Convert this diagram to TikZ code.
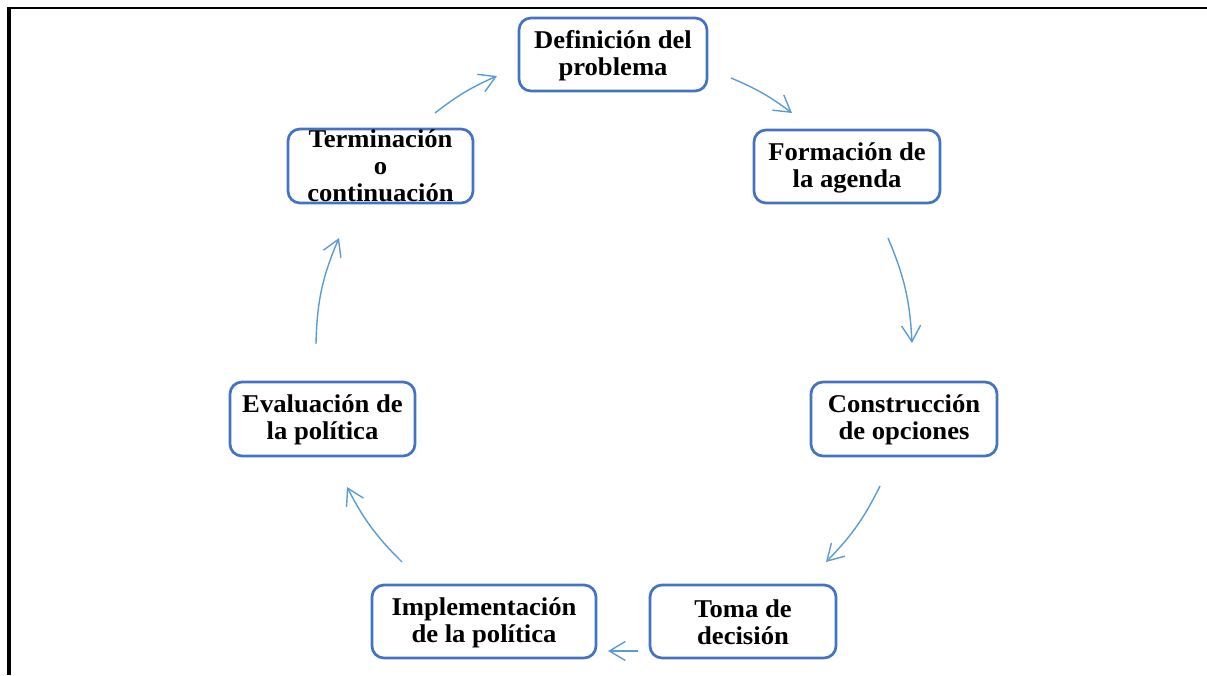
\documentclass[tikz,border=0pt]{standalone}
\usepackage{fontspec}
\setmainfont{Liberation Serif}[FakeStretch=1.04]
\usetikzlibrary{arrows.meta}
\definecolor{boxblue}{HTML}{4472C4}
\definecolor{arrblue}{HTML}{5B9BD5}
\begin{document}
\begin{tikzpicture}[x=1pt,y=1pt,
  box/.style={draw=boxblue, line width=2.7pt, rounded corners=12pt, fill=white, inner sep=0pt},
  lbl/.style={font=\fontsize{25.6}{27}\selectfont\bfseries, align=center, inner sep=0pt},
  arr/.style={draw=arrblue, line width=1.4pt, -{Straight Barb[length=16pt,width=19pt]}}]
\useasboundingbox (0,0) rectangle (1207,675);
% frame
\draw[line width=2.7pt] (7,667) -- (1207,667);
\draw[line width=4.5pt] (9,668.3) -- (9,0);
% boxes
\node[box, minimum width=188pt, minimum height=73pt] (b1) at (613,620.5) {};
\node[box, minimum width=186pt, minimum height=73pt] (b2) at (847,508.5) {};
\node[box, minimum width=186pt, minimum height=74pt] (b3) at (904,256) {};
\node[box, minimum width=186pt, minimum height=73pt] (b4) at (743,53.5) {};
\node[box, minimum width=224pt, minimum height=73pt] (b5) at (484,53.5) {};
\node[box, minimum width=185pt, minimum height=74pt] (b6) at (322.5,256) {};
\node[box, minimum width=185pt, minimum height=74pt] (b7) at (380.5,509) {};
% labels
\node[lbl] (t1) at ([yshift=-1pt]b1.center) {Definición del\\problema};
\node[lbl] (t2) at ([yshift=-1pt]b2.center) {Formación de\\la agenda};
\node[lbl] (t3) at ([yshift=-1pt]b3.center) {Construcción\\de opciones};
\node[lbl] (t4) at ([yshift=-1pt]b4.center) {Toma de\\decisión};
\node[lbl] (t5) at ([yshift=-1pt]b5.center) {Implementación\\de la política};
\node[lbl] (t6) at ([yshift=-1pt]b6.center) {Evaluación de\\la política};
\node[lbl] (t7) at (b7.center) {Terminación\\o\\continuación};
% arrow end points
\coordinate (a1s) at (435,562); \coordinate (a1e) at (497,599);
\coordinate (a2s) at (731,597); \coordinate (a2e) at (792,562);
\coordinate (a3s) at (888,437); \coordinate (a3e) at (912,332);
\coordinate (a4s) at (880,189); \coordinate (a4e) at (826,113);
\coordinate (a5s) at (638,24);  \coordinate (a5e) at (608,24);
\coordinate (a6s) at (402,113); \coordinate (a6e) at (347,188);
\coordinate (a7s) at (316,331); \coordinate (a7e) at (339,437);
\draw[arr] (a1s) to[bend left=7] (a1e);
\draw[arr] (a2s) to[bend left=7] (a2e);
\draw[arr] (a3s) to[bend left=10] (a3e);
\draw[arr] (a4s) to[bend left=9] (a4e);
\draw[arr] (a5s) -- (a5e);
\draw[arr] (a6s) to[bend left=9] (a6e);
\draw[arr] (a7s) to[bend left=11] (a7e);
\end{tikzpicture}
\end{document}
